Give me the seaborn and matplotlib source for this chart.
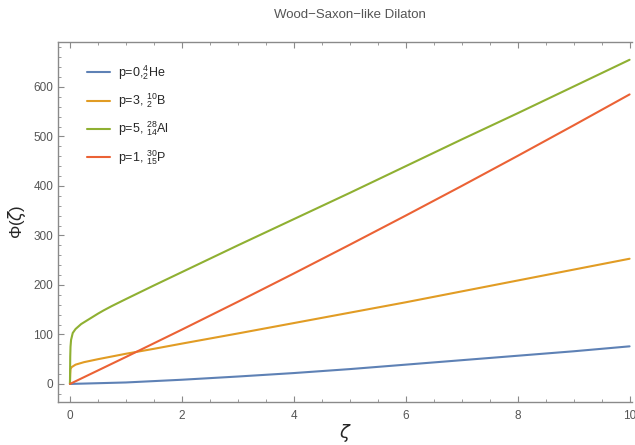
import pandas as pd
import matplotlib
matplotlib.use('Agg')
import matplotlib.pyplot as plt
import seaborn as sns
from matplotlib.ticker import MultipleLocator

# values
x_he = [0, 1, 2, 3, 4, 5, 6, 7, 8, 9, 10]
y_he = [0, 3, 8.5, 15, 22, 30, 39, 48, 57, 66, 76]

x_b = [0, 0.005, 0.01, 0.03, 0.1, 0.25, 0.5, 1, 1.5, 2, 3, 4, 5, 6, 7, 8, 9, 10]
y_b = [0, 20, 30, 34, 39, 44, 50, 61, 71, 81.5, 102, 123, 144, 165, 187, 209, 231, 253]

x_al = [0, 0.005, 0.01, 0.02, 0.05, 0.1, 0.2, 0.3, 0.4, 0.5, 0.6, 0.75, 1, 1.5, 2,
        3, 4, 5, 6, 7, 8, 9, 10]
y_al = [0, 55, 75, 89, 103, 111, 121, 128, 135, 142, 148.5, 157.5, 171.5, 199, 226,
        280, 333, 386, 440, 494, 547, 601, 655]

x_p = [0, 1, 2, 3, 4, 5, 6, 7, 8, 9, 10]
y_p = [0, 54.5, 109.8, 166, 223.2, 281.3, 340.2, 400, 460.8, 522.5, 585]

labels = [r'p=0,${}^{4}_{2}$He', r'p=3, ${}^{10}_{2}$B',
          r'p=5, ${}^{28}_{14}$Al', r'p=1, ${}^{30}_{15}$P']
colors = ['#5E81B5', '#E19C24', '#8FB032', '#EB6235']

sns.set_style('ticks')
plt.rcParams['font.family'] = ['Liberation Sans', 'DejaVu Sans']
plt.rcParams['mathtext.fontset'] = 'custom'
plt.rcParams['mathtext.rm'] = 'Liberation Sans'

fig = plt.figure(figsize=(6.35, 4.45), dpi=100)
ax = fig.add_axes([0.0913, 0.0966, 0.9037, 0.808])

series = [(x_he, y_he), (x_b, y_b), (x_al, y_al), (x_p, y_p)]
for (xs, ys), lab, c in zip(series, labels, colors):
    df = pd.DataFrame({'zeta': xs, 'phi': ys})
    sns.lineplot(data=df, x='zeta', y='phi', ax=ax, color=c, lw=1.5, label=lab,
                 estimator=None, sort=False)

ax.set_xlim(-0.214, 10.04)
ax.set_ylim(-36.5, 690)
ax.xaxis.set_major_locator(MultipleLocator(2))
ax.xaxis.set_minor_locator(MultipleLocator(0.5))
ax.yaxis.set_major_locator(MultipleLocator(100))
ax.yaxis.set_minor_locator(MultipleLocator(20))

gray = '#8a8a8a'
for side in ['left', 'bottom', 'top']:
    ax.spines[side].set_color(gray)
    ax.spines[side].set_linewidth(1.0)
ax.spines['right'].set_visible(False)
ax.tick_params(which='both', direction='in', color=gray, labelcolor='#555555',
               labelsize=8.5, top=True, right=False)
ax.tick_params(which='major', length=4, width=0.8)
ax.tick_params(which='minor', length=2, width=0.6)
ax.tick_params(axis='x', pad=6)

ax.set_xlabel(r'$\zeta$', fontsize=13, labelpad=0)
ax.set_ylabel(r'$\Phi(\zeta)$', fontsize=12, labelpad=4)
fig.text(0.551, 0.966, 'Wood\u2212Saxon\u2212like Dilaton', ha='center', va='center',
         fontsize=9.5, color='#555555')

leg = ax.legend(loc='upper left', bbox_to_anchor=(0.042, 0.955), frameon=False,
                fontsize=9, handlelength=1.85, labelspacing=0.75, borderaxespad=0,
                handletextpad=0.6)

fig.savefig('out.png', dpi=100)
